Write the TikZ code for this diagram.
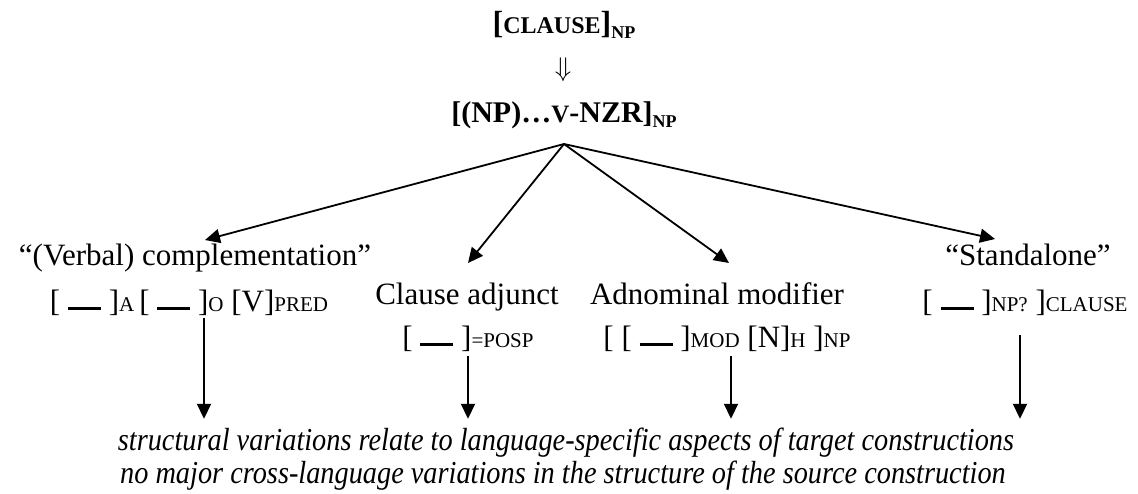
\documentclass[tikz,border=0pt]{standalone}
\usepackage{fontspec}
\usepackage{graphicx}
\setmainfont{Liberation Serif}[ItalicFont={Liberation Serif Italic}]
\usetikzlibrary{arrows.meta}
% small capitals, drawn as reduced upper case
\newcommand\smc[1]{{\fontsize{21}{21}\selectfont #1}}
% the empty slot of a construction
\newcommand\blank{\rule[1.5pt]{33pt}{2.5pt}}
% bold lowered label after a bracket
\newcommand\bsub[1]{\raisebox{-5pt}{\fontsize{18}{18}\selectfont\bfseries #1}}
% condensed italic line
\newcommand\narrow[1]{\scalebox{0.885}[1]{#1}}

\begin{document}
\begin{tikzpicture}[x=1pt,y=-1pt,
  lbl/.style={anchor=base,inner sep=0pt,font=\fontsize{31}{36}\selectfont},
  head/.style={anchor=base,inner sep=0pt,font=\fontsize{32}{38}\selectfont\bfseries},
  note/.style={anchor=base,inner xsep=0pt,inner ysep=9pt,text height=22pt,
    font=\fontsize{32}{33}\selectfont\itshape},
  arr/.style={line width=1.8pt,-{Triangle[length=15pt,width=14pt]}}]
\useasboundingbox (0,0) rectangle (1138,493);

% source and nominalised form
\node[head] (src) at (564,33) {[{\fontsize{24}{24}\selectfont CLAUSE}]\bsub{NP}};
\node[inner sep=0pt] (der) at (563,70) {\scalebox{2.7}{$\Downarrow$}};
\node[head,font=\fontsize{30}{36}\selectfont\bfseries] (tgt) at (564,122)
  {[(NP)…{\fontsize{25}{25}\selectfont V}-NZR]\bsub{NP}};
\coordinate (fork) at (564,144);

% the four functions
\node[lbl] (comp)  at (195,265) {“(Verbal) complementation”};
\node[lbl] (adj)   at (467,304) {Clause adjunct};
\node[lbl] (adn)   at (717,304) {Adnominal modifier};
\node[lbl] (stand) at (1028,265) {“Standalone”};

\node[lbl] (f1) at (189,311) {[ \blank\ ]\smc{A}\hspace{5pt}[ \blank\ ]\smc{O} [V]\smc{PRED}};
\node[lbl] (f2) at (468,347) {[ \blank\ ]\smc{=POSP}};
\node[lbl] (f3) at (727,347) {[ [ \blank\ ]\smc{MOD} [N]\smc{H} ]\smc{NP}};
\node[lbl] (f4) at (1025,311) {[ \blank\ ]\smc{NP?} ]\smc{CLAUSE}};

% conclusions
\node[note] (n1) at (566,450) {\narrow{structural variations relate to language-specific aspects of target constructions}};
\node[note] (n2) at (563,483) {\narrow{no major cross-language variations in the structure of the source construction}};

% branching arrows
\draw[arr] (fork) -- ([shift={(10,-25)}]comp.base);
\draw[arr] (fork) -- ([shift={(1,-41)}]adj.base);
\draw[arr] (fork) -- ([shift={(12,-41)}]adn.base);
\draw[arr] (fork) -- ([shift={(-33,-26)}]stand.base);

% downward arrows to the conclusions
\coordinate (s1) at ([shift={(15,7)}]f1.base);
\coordinate (s2) at ([shift={(0,9)}]f2.base);
\coordinate (s3) at ([shift={(4,9)}]f3.base);
\coordinate (s4) at ([shift={(-5,24)}]f4.base);
\foreach \s in {s1,s2,s3,s4}
  \draw[arr] (\s) -- (\s |- n1.north);
\end{tikzpicture}
\end{document}
